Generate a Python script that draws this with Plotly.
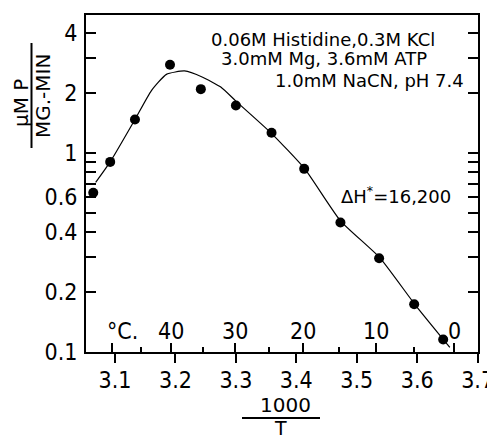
import plotly.graph_objects as go

# ---- data ----
inv_T = [3.064, 3.092, 3.133, 3.191, 3.242, 3.300, 3.359, 3.413, 3.473, 3.537, 3.595, 3.643]
rate = [0.63, 0.90, 1.47, 2.77, 2.09, 1.73, 1.26, 0.83, 0.446, 0.295, 0.173, 0.115]

curve_x = [3.068, 3.092, 3.133, 3.160, 3.185, 3.215, 3.245, 3.275, 3.300,
           3.358, 3.414, 3.473, 3.538, 3.596, 3.654]
curve_y = [0.71, 0.90, 1.47, 2.05, 2.48, 2.58, 2.40, 2.14, 1.82,
           1.26, 0.83, 0.455, 0.297, 0.173, 0.105]

x_ticks = [3.1, 3.2, 3.3, 3.4, 3.5, 3.6, 3.7]
x_ticktext = ["3.1", "3.2", "3.3", "3.4", "3.5", "3.6", "3.7"]

y_ticks = [0.1, 0.2, 0.3, 0.4, 0.5, 0.6, 0.7, 0.8, 0.9, 1, 2, 3, 4]
y_ticktext = ["0.1", "0.2", "", "0.4", "", "0.6", "", "", "", "1", "2", "", "4"]

celsius_major = [50, 40, 30, 20, 10, 0]
celsius_labels = ["", "40", "30", "20", "10", "0"]
celsius_minor = [45, 35, 25, 15, 5]

conditions = ["0.06M Histidine,0.3M KCl", "3.0mM Mg, 3.6mM ATP", "1.0mM NaCN, pH 7.4"]
dh_label = "ΔH<sup>*</sup>=16,200"

# ---- layout geometry (window pixels; page body has an 8px margin) ----
OFF = 8
W, H = 495 - OFF, 439 - OFF
L, R, T, B = 86, 478, 15, 352          # plot box in window pixels
PW, PH = R - L, B - T


def px(xp):
    return (xp - L) / PW


def py(yp):
    return (B - yp) / PH


def to_inv(c):
    return 1000.0 / (c + 273.15)


TICK_FONT = dict(family="Liberation Sans Narrow, DejaVu Sans Condensed, sans-serif", size=23, color="black")
TEXT_FONT = dict(family="DejaVu Sans, sans-serif", size=18, color="black")

fig = go.Figure()
fig.add_trace(go.Scatter(x=curve_x, y=curve_y, mode="lines",
                         line=dict(color="black", width=1.2, shape="spline", smoothing=0.5),
                         hoverinfo="skip", showlegend=False))
fig.add_trace(go.Scatter(x=inv_T, y=rate, mode="markers",
                         marker=dict(color="black", size=10),
                         showlegend=False))
# carrier trace for the Celsius axis
fig.add_trace(go.Scatter(x=inv_T, y=rate, mode="none", xaxis="x2",
                         hoverinfo="skip", showlegend=False))

xr = [3.052, 3.7006]
fig.update_layout(
    width=W, height=H,
    margin=dict(l=L - OFF, r=495 - R, t=T - OFF, b=439 - B, autoexpand=False),
    paper_bgcolor="white", plot_bgcolor="white",
    xaxis=dict(range=xr, tickvals=x_ticks, ticktext=x_ticktext,
               ticks="outside", ticklen=9, tickwidth=2, tickcolor="black",
               showline=True, linewidth=2, linecolor="black", mirror=True,
               showgrid=False, zeroline=False, tickfont=TICK_FONT,
               ticklabelstandoff=-3, automargin=False),
    xaxis2=dict(range=xr, overlaying="x", anchor="y", side="bottom",
                tickvals=[to_inv(c) for c in celsius_major],
                ticks="inside", ticklen=9, tickwidth=2, tickcolor="black",
                showticklabels=False, showline=False, showgrid=False,
                zeroline=False, automargin=False,
                minor=dict(tickvals=[to_inv(c) for c in celsius_minor], ticks="inside",
                           ticklen=5, tickwidth=1.5, tickcolor="black", showgrid=False)),
    yaxis=dict(type="log", range=[-1.002, 0.693], tickvals=y_ticks, ticktext=y_ticktext,
               ticks="inside", ticklen=10, tickwidth=2, tickcolor="black",
               showline=True, linewidth=2, linecolor="black", mirror="ticks",
               showgrid=False, zeroline=False, tickfont=TICK_FONT,
               ticklabelstandoff=2, ticklabeloverflow="allow", automargin=False),
)

ann = []
# Celsius scale labels
for c, lab in zip(celsius_major, celsius_labels):
    if lab:
        ann.append(dict(text=lab, x=to_inv(c), xref="x", y=py(331), font=TICK_FONT))
ann.append(dict(text="°C.", x=px(122), y=py(331), font=TICK_FONT))
# condition lines
ann.append(dict(text=conditions[0], x=px(323), y=py(39)))
ann.append(dict(text=conditions[1], x=px(324), y=py(59)))
ann.append(dict(text=conditions[2], x=px(369), y=py(80.5)))
ann.append(dict(text=dh_label, x=px(396), y=py(195)))
# axis titles
ann.append(dict(text="1000", x=px(285), y=py(405), font=dict(TEXT_FONT, size=20)))
ann.append(dict(text="T", x=px(280), y=py(428), font=dict(TEXT_FONT, size=19)))
ann.append(dict(text="µM P", x=px(21), y=py(103), textangle=-90, font=dict(TEXT_FONT, size=20)))
ann.append(dict(text="MG.-MIN", x=px(43), y=py(96), textangle=-90, font=dict(TEXT_FONT, size=20)))
for a in ann:
    a.setdefault("font", TEXT_FONT)
    a.setdefault("xref", "paper")
    a.update(yref="paper", showarrow=False, xanchor="center", yanchor="middle")
fig.update_layout(annotations=ann)

fig.add_shape(type="line", xref="paper", yref="paper", x0=px(242), x1=px(320), y0=py(418), y1=py(418),
              line=dict(color="black", width=2))
fig.add_shape(type="line", xref="paper", yref="paper", x0=px(31.5), x1=px(31.5), y0=py(43), y1=py(148),
              line=dict(color="black", width=2))

fig.write_html("out.html")
